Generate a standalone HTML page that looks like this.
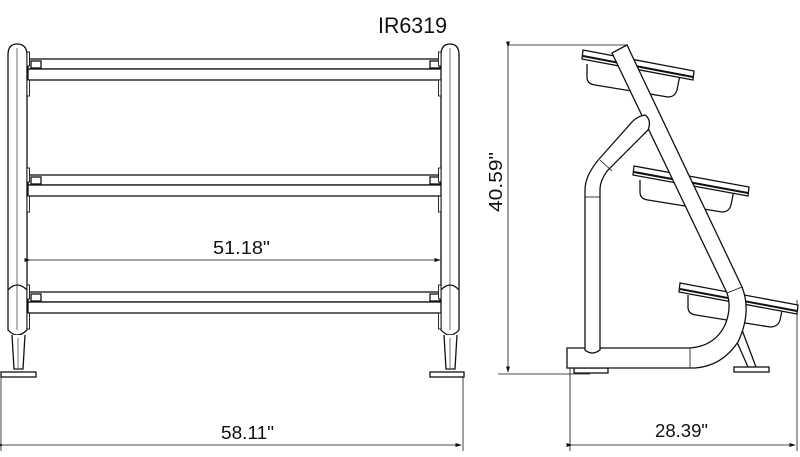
<!DOCTYPE html>
<html><head><meta charset="utf-8"><style>
html,body{margin:0;padding:0;background:#fff;}
svg{display:block;}
text{font-family:"Liberation Sans",sans-serif;fill:#111;}
</style></head><body>
<svg width="800" height="457" viewBox="0 0 800 457" xmlns="http://www.w3.org/2000/svg">
<defs>
<marker id="ar" markerWidth="8" markerHeight="6" refX="7" refY="3" orient="auto"><path d="M0,0.5 L8,3 L0,5.5 z" fill="#111"/></marker>
</defs>
<g fill="#fff" stroke="#111" stroke-width="1.3">
<!-- front view shelves -->
<rect x="28" y="59" width="414" height="10"/><rect x="28" y="69" width="414" height="11"/>
<rect x="28" y="175" width="414" height="10"/><rect x="28" y="185" width="414" height="11"/>
<rect x="28" y="292" width="414" height="10"/><rect x="28" y="302" width="414" height="11"/>
<rect x="31" y="61" width="10" height="7"/><rect x="430" y="61" width="10" height="7"/>
<rect x="31" y="177" width="10" height="7"/><rect x="430" y="177" width="10" height="7"/>
<rect x="31" y="294" width="10" height="7"/><rect x="430" y="294" width="10" height="7"/>
<!-- left post -->
<path d="M8,55 Q8,44 17,44 Q27,44 27,55 L27,330 Q17,340 8,330 Z"/>
<line x1="17" y1="48" x2="17" y2="330" stroke-width="0.6"/>
<path d="M8,290 Q17,280 27,290" fill="none"/>
<path d="M12,335 L14,369 L23,369 L25,335"/>
<line x1="18" y1="338" x2="18" y2="368" stroke-width="0.6"/>
<rect x="1" y="372" width="35" height="5"/>
<!-- right post -->
<path d="M441,55 Q441,44 450,44 Q459,44 459,55 L459,330 Q450,340 441,330 Z"/>
<line x1="450" y1="48" x2="450" y2="330" stroke-width="0.6"/>
<path d="M441,290 Q450,280 459,290" fill="none"/>
<path d="M444,335 L446,369 L455,369 L457,335"/>
<line x1="450" y1="338" x2="450" y2="368" stroke-width="0.6"/>
<rect x="430" y="372" width="34" height="5"/>
</g>
<g fill="#fff" stroke="#111" stroke-width="0.9">
<rect x="27" y="52" width="2.5" height="14"/><rect x="27" y="80" width="2.5" height="16"/>
<rect x="27" y="168" width="2.5" height="14"/><rect x="27" y="196" width="2.5" height="16"/>
<rect x="27" y="285" width="2.5" height="14"/><rect x="27" y="313" width="2.5" height="16"/>
<rect x="438.5" y="52" width="2.5" height="14"/><rect x="438.5" y="80" width="2.5" height="16"/>
<rect x="438.5" y="168" width="2.5" height="14"/><rect x="438.5" y="196" width="2.5" height="16"/>
<rect x="438.5" y="285" width="2.5" height="14"/><rect x="438.5" y="313" width="2.5" height="16"/>
</g>
<!-- dimensions -->
<g stroke="#111" stroke-width="0.8" fill="none">
<line x1="30" y1="260" x2="440" y2="260" marker-start="url(#ar)" marker-end="url(#ar)"/>
<line x1="1" y1="377" x2="1" y2="451"/><line x1="463" y1="377" x2="463" y2="451"/>
<line x1="3" y1="445" x2="461" y2="445" marker-start="url(#ar)" marker-end="url(#ar)"/>
<line x1="508" y1="45" x2="628" y2="45"/><line x1="498" y1="374" x2="590" y2="374"/>
<line x1="508" y1="47" x2="508" y2="372" marker-start="url(#ar)" marker-end="url(#ar)"/>
<line x1="570" y1="362" x2="570" y2="451"/><line x1="797" y1="300" x2="797" y2="451"/>
<line x1="572" y1="445" x2="795" y2="445" marker-start="url(#ar)" marker-end="url(#ar)"/>
</g>
<text x="378" y="33" font-size="22" textLength="69" lengthAdjust="spacingAndGlyphs">IR6319</text>
<text x="213" y="254" font-size="18" textLength="57" lengthAdjust="spacingAndGlyphs">51.18"</text>
<text x="221" y="439" font-size="18" textLength="53" lengthAdjust="spacingAndGlyphs">58.11"</text>
<text x="655" y="437" font-size="18" textLength="53" lengthAdjust="spacingAndGlyphs">28.39"</text>
<text x="0" y="0" font-size="18" textLength="60" lengthAdjust="spacingAndGlyphs" transform="translate(502,212) rotate(-90)">40.59"</text>
<!-- side view -->
<g fill="#fff" stroke="#111" stroke-width="1.3">
<path d="M587,64 L587,77 Q587,84 595,85 L668,97 Q675,97 677,90 L680,75"/>
<path d="M640,180 L640,192 Q640,199 648,200 L722,212 Q729,212 731,205 L734,190"/>
<path d="M688,295 L688,307 Q688,314 696,315 L770,327 Q778,327 780,320 L783,306"/>
<!-- shelf bars -->
<path d="M583,50 L694,71 L693,80 L582,59 Z"/>
<line x1="583" y1="56" x2="693" y2="77" stroke-width="2"/>
<path d="M634,166 L749,187 L748,196 L633,175 Z"/>
<line x1="634" y1="172" x2="748" y2="193" stroke-width="2"/>
<path d="M680,283 L798,305 L797,314 L679,292 Z"/>
<line x1="680" y1="289" x2="797" y2="311" stroke-width="2"/>
<!-- front leg -->
<path d="M733,333 L748,367 L756,367 L742,330 Z"/>
<rect x="734" y="367" width="35" height="5"/>
<!-- rear foot -->
<rect x="584" y="363" width="13" height="5"/>
<rect x="574" y="368" width="34" height="5"/>
<!-- main tube + bottom bar -->
<path d="M612,53 L627,45 L742,287 Q752,312 738,342 Q722,366 695,368 L567,368 L567,348 L690,348 Q715,346 725,325 Q732,308 727,293 Z"/>
<line x1="727" y1="293" x2="742" y2="287" stroke-width="0.8"/>
<line x1="690" y1="348" x2="690" y2="368" stroke-width="0.8"/>
<!-- vertical post with bend -->
<path d="M585,350 Q592,356 600,350 L600,190 Q600,180 608,170 L648,130 Q652,120 645,115 Q638,116 632,122 L600,158 Q585,175 585,190 Z"/>
<line x1="585" y1="197" x2="600" y2="197" stroke-width="0.8"/>
<line x1="600" y1="160" x2="612" y2="171" stroke-width="0.8"/>
</g>
</svg>
</body></html>
